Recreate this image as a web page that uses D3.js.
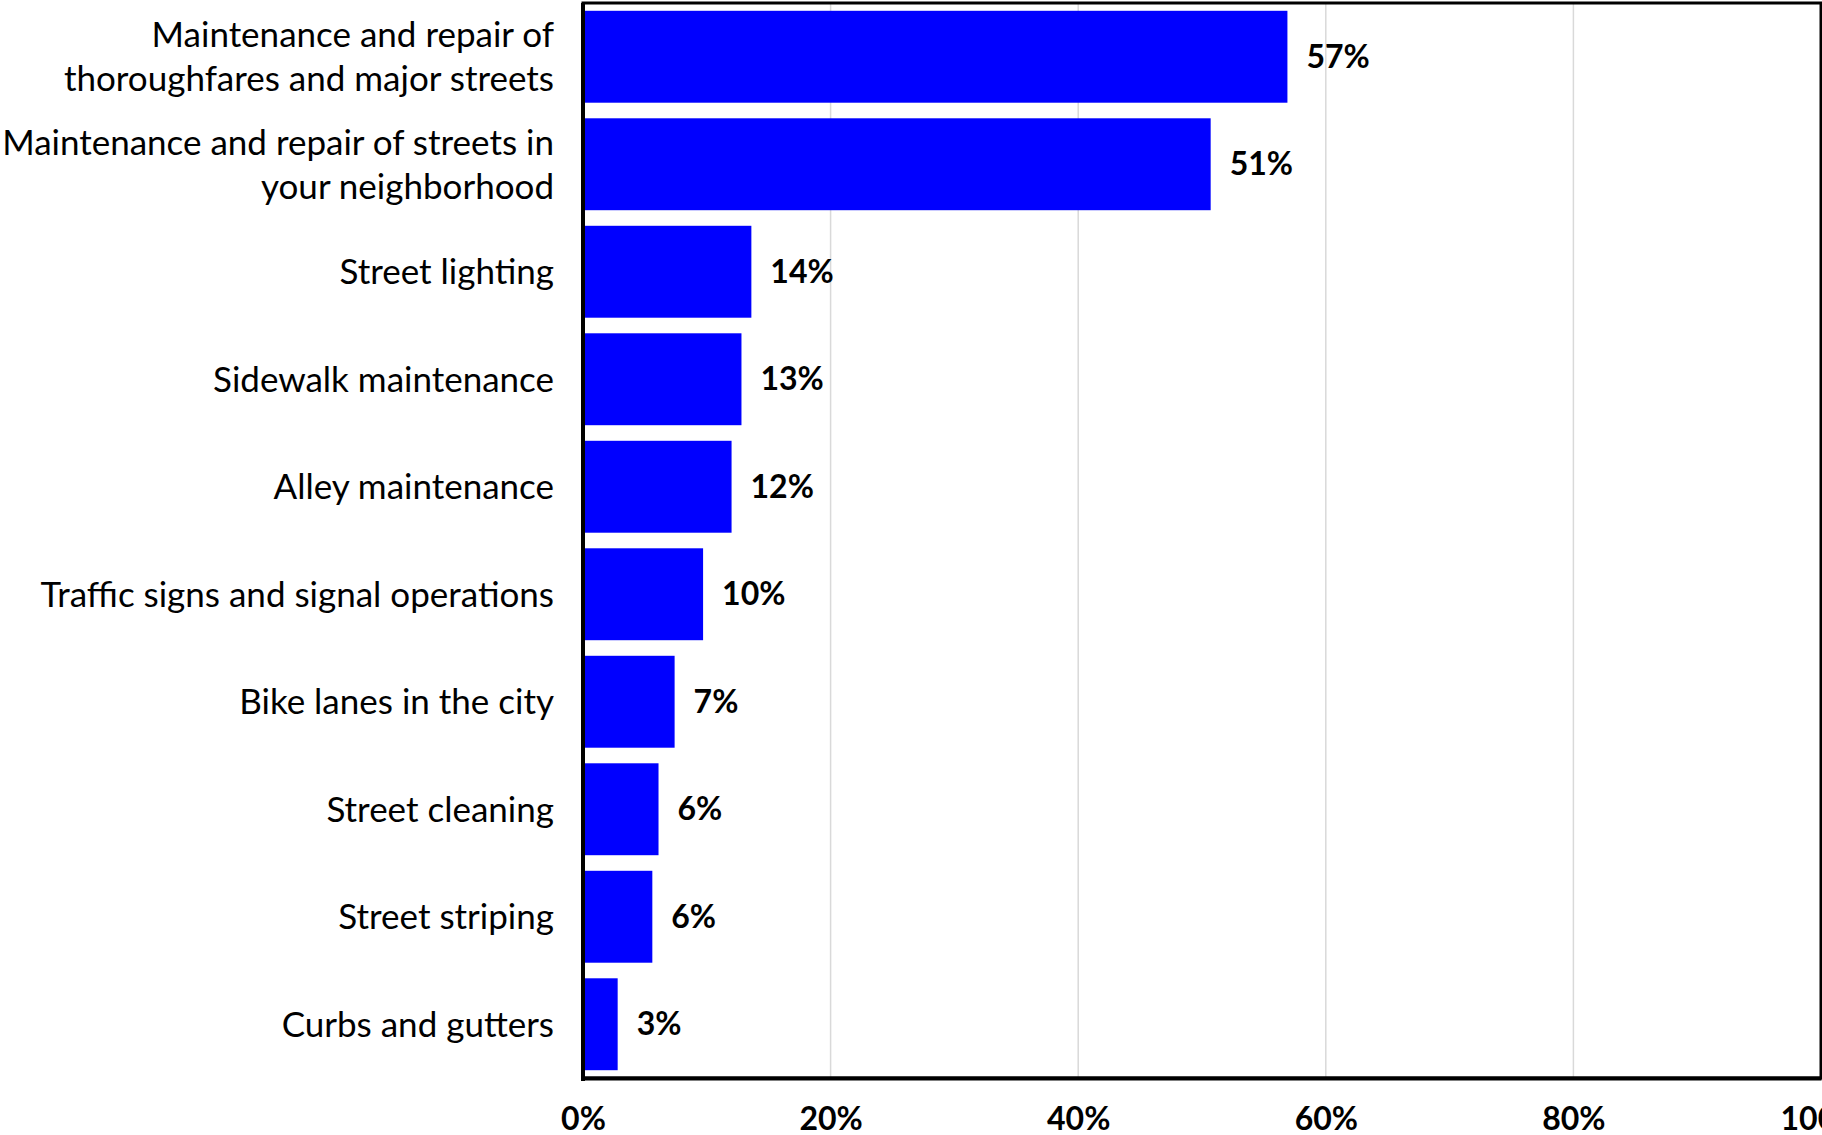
<!DOCTYPE html>
<html>
<head>
<meta charset="utf-8">
<script src="https://cdn.jsdelivr.net/npm/d3@7"></script>
<style>
  html, body { margin: 0; padding: 0; background: #fff; }
  svg { display: block; }
  .cat-label { font-family: Lato, "Open Sans", sans-serif; font-size: 35px; fill: #000; }
  .val-label { font-family: Lato, "Open Sans", sans-serif; font-size: 32px; font-weight: bold; fill: #000; }
  .tick-label { font-family: Lato, "Open Sans", sans-serif; font-size: 32px; font-weight: bold; fill: #000; }
</style>
</head>
<body>
<svg id="chart"></svg>
<script>
// categories, top to bottom (each entry is a list of lines)
const categories = [
  ["Maintenance and repair of", "thoroughfares and major streets"],
  ["Maintenance and repair of streets in", "your neighborhood"],
  ["Street lighting"],
  ["Sidewalk maintenance"],
  ["Alley maintenance"],
  ["Traffic signs and signal operations"],
  ["Bike lanes in the city"],
  ["Street cleaning"],
  ["Street striping"],
  ["Curbs and gutters"]
]

// share of respondents, percent
const values = [56.9, 50.7, 13.6, 12.8, 12.0, 9.7, 7.4, 6.1, 5.6, 2.8]

// labels printed next to bars
const valueLabels = ["57%", "51%", "14%", "13%", "12%", "10%", "7%", "6%", "6%", "3%"]

const xTicks = [0, 20, 40, 60, 80, 100]

const width = 1822
const height = 1135
const margin = {left: 583, top: 3, right: 1, bottom: 57}

const plotW = width - margin.left - margin.right
const plotH = height - margin.top - margin.bottom

const svg = d3.select("#chart")
  .attr("width", width)
  .attr("height", height)

const g = svg.append("g")
  .attr("transform", `translate(${margin.left}, ${margin.top})`)

const x = d3.scaleLinear().domain([0, 100]).range([0, plotW])
const y = d3.scaleBand()
  .domain(d3.range(categories.length))
  .range([0, plotH])
  .paddingInner(0.145)
  .paddingOuter(0.0725)

// vertical gridlines
g.append("g")
  .selectAll("line")
  .data(xTicks.filter(t => t > 0 && t < 100))
  .join("line")
  .attr("x1", d => x(d))
  .attr("x2", d => x(d))
  .attr("y1", 0)
  .attr("y2", plotH)
  .attr("stroke", "#d9d9d9")
  .attr("stroke-width", 1.5)

// bars
g.append("g")
  .selectAll("rect")
  .data(values)
  .join("rect")
  .attr("x", x(0))
  .attr("y", (d, i) => y(i))
  .attr("width", d => x(d) - x(0))
  .attr("height", y.bandwidth())
  .attr("fill", "#0000ff")

// value labels
g.append("g")
  .selectAll("text")
  .data(values)
  .join("text")
  .attr("class", "val-label")
  .attr("x", d => x(d) + 19)
  .attr("y", (d, i) => y(i) + y.bandwidth() / 2)
  .attr("dy", "0.35em")
  .text((d, i) => valueLabels[i])

// category labels, right aligned
const catG = g.append("g")
categories.forEach((lines, i) => {
  const cy = y(i) + y.bandwidth() / 2
  const lh = 44
  const t = catG.append("text")
    .attr("class", "cat-label")
    .attr("text-anchor", "end")
  lines.forEach((line, j) => {
    t.append("tspan")
      .attr("x", -29)
      .attr("y", cy + (j - (lines.length - 1) / 2) * lh)
      .attr("dy", "0.35em")
      .text(line)
  })
})

// plot border: top and right
g.append("rect")
  .attr("x", 0)
  .attr("y", 0)
  .attr("width", plotW)
  .attr("height", plotH)
  .attr("fill", "none")
  .attr("stroke", "#000")
  .attr("stroke-width", 3)

// x axis
const xAxis = d3.axisBottom(x)
  .tickValues(xTicks)
  .tickSize(0)
  .tickPadding(0)
  .tickFormat(d => d + "%")

const axisG = g.append("g")
  .attr("transform", `translate(0, ${plotH})`)
  .call(xAxis)

axisG.select(".domain")
  .attr("stroke", "#000")
  .attr("stroke-width", 4)

axisG.selectAll(".tick text")
  .attr("class", "tick-label")
  .attr("font-family", null)
  .attr("font-size", null)
  .attr("y", 52)
  .attr("dy", 0)

// y axis line
g.append("line")
  .attr("x1", 0)
  .attr("x2", 0)
  .attr("y1", 0)
  .attr("y2", plotH + 3)
  .attr("stroke", "#000")
  .attr("stroke-width", 4)
</script>
</body>
</html>
